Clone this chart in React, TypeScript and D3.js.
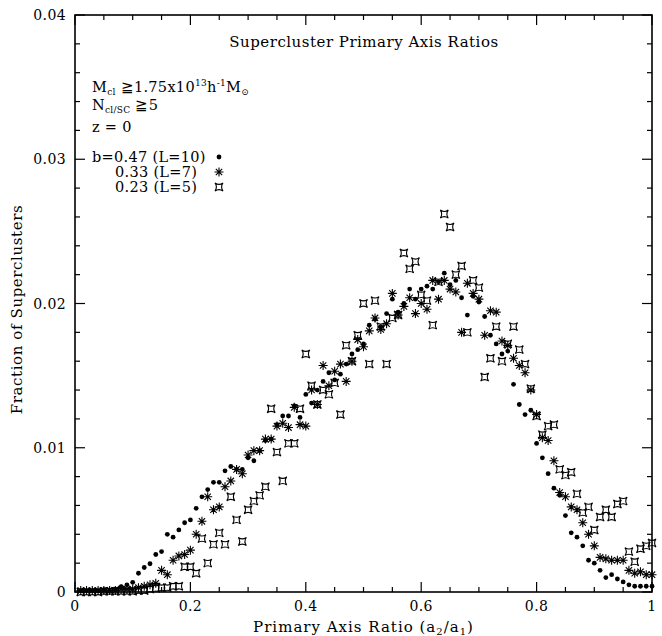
import React from "react";
import * as d3 from "d3";

// bins of the primary axis ratio (a2/a1)
const binCount = 100;
const bins = d3.range(1, binCount + 1).map((i) => i / binCount);

// b=0.47 (L=10) — filled dots
const dotsL10 = [
  0.0001, 0.0001, 0.0001, 0.0001, 0.00015, 0.0001, 0.0002, 0.00037, 0.0005, 0.00067,
  0.0013, 0.0017, 0.00196, 0.0026, 0.0028, 0.004, 0.0038, 0.0043, 0.0048, 0.005,
  0.0058, 0.0066, 0.0071, 0.0076, 0.0076, 0.0084, 0.0087, 0.0085, 0.0085, 0.0093,
  0.0091, 0.0098, 0.0105, 0.0106, 0.0116, 0.0122, 0.0122, 0.0129, 0.0121, 0.0137,
  0.0131, 0.014, 0.0146, 0.0152, 0.0147, 0.0151, 0.0158, 0.0165, 0.0168, 0.0172,
  0.0185, 0.0189, 0.0184, 0.0193, 0.0203, 0.0194, 0.02, 0.021, 0.0203, 0.021,
  0.0212, 0.021, 0.0215, 0.0221, 0.0213, 0.0216, 0.0204, 0.0192, 0.0205, 0.0201,
  0.0191, 0.0178, 0.0172, 0.0165, 0.0167, 0.0144, 0.013, 0.0123, 0.0126, 0.0103,
  0.0093, 0.0082, 0.0072, 0.0067, 0.0053, 0.0041, 0.0038, 0.0032, 0.0022, 0.002,
  0.0015, 0.001, 0.0012, 0.0009, 0.0007, 0.0005, 0.0004, 0.0004, 0.0004, 0.0004,
];

// b=0.33 (L=7) — asterisks
const asterL7 = [
  0.0001, 0.0001, 0.0001, 0.0001, 0.0001, 0.0001, 0.0001, 0.0002, 0.0002, 0.0002,
  0.0003, 0.0004, 0.0005, 0.0006, 0.0015, 0.0012, 0.0022, 0.0025, 0.0026, 0.0029,
  0.004, 0.0049, 0.0066, 0.0057, 0.0059, 0.0073, 0.0077, 0.0085, 0.0082, 0.0095,
  0.0098, 0.0098, 0.0106, 0.0106, 0.0115, 0.0117, 0.0114, 0.0128, 0.0116, 0.0115,
  0.014, 0.013, 0.0157, 0.0143, 0.0153, 0.0158, 0.0146, 0.016, 0.0175, 0.017,
  0.0181, 0.019, 0.0182, 0.0186, 0.0207, 0.0192, 0.0198, 0.0204, 0.0193, 0.02,
  0.0196, 0.0216, 0.0203, 0.0216, 0.021, 0.0208, 0.018, 0.0214, 0.0207, 0.0203,
  0.0178, 0.0195, 0.0194, 0.0174, 0.0171, 0.0162, 0.0157, 0.0152, 0.014, 0.0123,
  0.0107, 0.0105, 0.0091, 0.0069, 0.0066, 0.0059, 0.0057, 0.0048, 0.004, 0.0032,
  0.0024, 0.0023, 0.0022, 0.0022, 0.0022, 0.0015, 0.0013, 0.0014, 0.0012, 0.0012,
];

// b=0.23 (L=5) — hollow four-point stars
const starL5 = [
  0, 0, 0, 0, 0.00005, 0.00005, 0.00005, 0.00005, 0.00005, 0.00005,
  0.0001, 0.0001, 0.0002, 0.00025, 0.0003, 0.0003, 0.0004, 0.0004, 0.00175, 0.00175,
  0.0013, 0.0037, 0.002, 0.0033, 0.0041, 0.0033, 0.0066, 0.005, 0.0035, 0.0057,
  0.0063, 0.0067, 0.0073, 0.0127, 0.0097, 0.0077, 0.0103, 0.0103, 0.0127, 0.0165,
  0.0143, 0.013, 0.014, 0.0137, 0.0145, 0.0123, 0.0171, 0.016, 0.0178, 0.02,
  0.0158, 0.0202, 0.0184, 0.0158, 0.019, 0.0192, 0.0235, 0.0224, 0.0229, 0.0206,
  0.0202, 0.0185, 0.0215, 0.0262, 0.0253, 0.022, 0.0226, 0.018, 0.0216, 0.0211,
  0.0149, 0.0162, 0.0184, 0.016, 0.0172, 0.0184, 0.0168, 0.0158, 0.0141, 0.0122,
  0.0109, 0.0115, 0.0116, 0.0085, 0.0081, 0.0083, 0.0068, 0.0055, 0.0059, 0.0043,
  0.0052, 0.0057, 0.0052, 0.0061, 0.0063, 0.0028, 0.0021, 0.003, 0.0032, 0.0034,
];

const xMajor = [0, 0.2, 0.4, 0.6, 0.8, 1];
const xMajorLabels = ["0", "0.2", "0.4", "0.6", "0.8", "1"];
const yMajor = [0, 0.01, 0.02, 0.03, 0.04];
const yMajorLabels = ["0", "0.01", "0.02", "0.03", "0.04"];

const W = 662;
const H = 636;
const L = 75, R = 652, T = 15, B = 592;
const FONT = "'DejaVu Serif', serif";

const x = d3.scaleLinear().domain([0, 1]).range([L, R]);
const y = d3.scaleLinear().domain([0, 0.04]).range([B, T]);

const xMinor = d3.range(0, 1.0001, 0.05);
const yMinor = d3.range(0, 0.04001, 0.002);

function Asterisk({ cx, cy, r = 4.5 }: { cx: number; cy: number; r?: number }) {
  const d = [0, 45, 90, 135]
    .map((a) => {
      const rad = (a * Math.PI) / 180;
      const dx = Math.cos(rad) * r, dy = Math.sin(rad) * r;
      return `M${cx - dx},${cy - dy}L${cx + dx},${cy + dy}`;
    })
    .join("");
  return <path d={d} stroke="#000" strokeWidth={1.1} fill="none" />;
}

function Star({ cx, cy, r = 4 }: { cx: number; cy: number; r?: number }) {
  const k = 0.3 * r;
  const d = `M${cx - r},${cy - r}Q${cx},${cy - k} ${cx + r},${cy - r}Q${cx + k},${cy} ${cx + r},${cy + r}Q${cx},${cy + k} ${cx - r},${cy + r}Q${cx - k},${cy} ${cx - r},${cy - r}Z`;
  return <path d={d} stroke="#000" strokeWidth={1.1} fill="none" />;
}

export default function App() {
  const majorLen = 10, minorLen = 5;
  return (
    <svg width={W} height={H} style={{ position: "absolute", left: 0, top: 0, background: "#fff" }}
      fontFamily={FONT}>
      <rect x={0} y={0} width={W} height={H} fill="#fff" />
      {/* ticks */}
      <g stroke="#000" strokeWidth={1.2}>
        {xMinor.map((v, i) => {
          const isMaj = xMajor.some((m) => Math.abs(m - v) < 1e-6);
          const len = isMaj ? majorLen : minorLen;
          return (
            <g key={"xt" + i}>
              <line x1={x(v)} x2={x(v)} y1={B} y2={B - len} />
              <line x1={x(v)} x2={x(v)} y1={T} y2={T + len} />
            </g>
          );
        })}
        {yMinor.map((v, i) => {
          const isMaj = yMajor.some((m) => Math.abs(m - v) < 1e-7);
          const len = isMaj ? majorLen : minorLen;
          return (
            <g key={"yt" + i}>
              <line x1={L} x2={L + len} y1={y(v)} y2={y(v)} />
              <line x1={R} x2={R - len} y1={y(v)} y2={y(v)} />
            </g>
          );
        })}
      </g>
      <rect x={L} y={T} width={R - L} height={B - T} fill="none" stroke="#000" strokeWidth={1.6} />
      {/* tick labels */}
      <g fontSize={14} fill="#000" letterSpacing={0.4}>
        {xMajor.map((v, i) => (
          <text key={"xl" + i} x={x(v)} y={B + 19} textAnchor="middle">{xMajorLabels[i]}</text>
        ))}
        {yMajor.map((v, i) => (
          <text key={"yl" + i} x={L - 9} y={y(v) + 5} textAnchor="end">{yMajorLabels[i]}</text>
        ))}
      </g>
      {/* axis titles */}
      <text x={(L + R) / 2} y={632} textAnchor="middle" fontSize={15} letterSpacing={1}>
        Primary Axis Ratio (a<tspan fontSize={10} dy={3}>2</tspan><tspan dy={-3}>/a</tspan><tspan fontSize={10} dy={3}>1</tspan><tspan dy={-3}>)</tspan>
      </text>
      <text transform={`translate(22,${(T + B) / 2 + 6}) rotate(-90)`} textAnchor="middle" fontSize={15} letterSpacing={0.6}>
        Fraction of Superclusters
      </text>
      {/* title */}
      <text x={364} y={47} textAnchor="middle" fontSize={15} letterSpacing={0.5}>Supercluster Primary Axis Ratios</text>
      {/* annotations */}
      <g fontSize={14.5} letterSpacing={0.3}>
        <text x={92} y={92}>
          M<tspan fontSize={9} dy={3}>cl</tspan><tspan dy={-3}> ≧1.75x10</tspan><tspan fontSize={9} dy={-6}>13</tspan><tspan dy={6}>h</tspan><tspan fontSize={9} dy={-6}>-1</tspan><tspan dy={6}>M</tspan><tspan fontSize={9} dy={3}>⊙</tspan>
        </text>
        <text x={92} y={110}>
          N<tspan fontSize={9} dy={3}>cl/SC</tspan><tspan dy={-3}> ≧5</tspan>
        </text>
        <text x={92} y={132}>z = 0</text>
        <text x={92} y={162}>b=0.47 (L=10)</text>
        <text x={115} y={177}>0.33 (L=7)</text>
        <text x={115} y={192}>0.23 (L=5)</text>
      </g>
      <circle cx={219} cy={157} r={2.4} fill="#000" />
      <Asterisk cx={219} cy={172} />
      <Star cx={219} cy={187} />
      {/* data */}
      <g>
        {bins.map((b, i) => (
          <Star key={"s" + i} cx={x(b)} cy={y(starL5[i])} />
        ))}
        {bins.map((b, i) => (
          <Asterisk key={"a" + i} cx={x(b)} cy={y(asterL7[i])} />
        ))}
        {bins.map((b, i) => (
          <circle key={"d" + i} cx={x(b)} cy={y(dotsL10[i])} r={2.4} fill="#000" />
        ))}
      </g>
    </svg>
  );
}
